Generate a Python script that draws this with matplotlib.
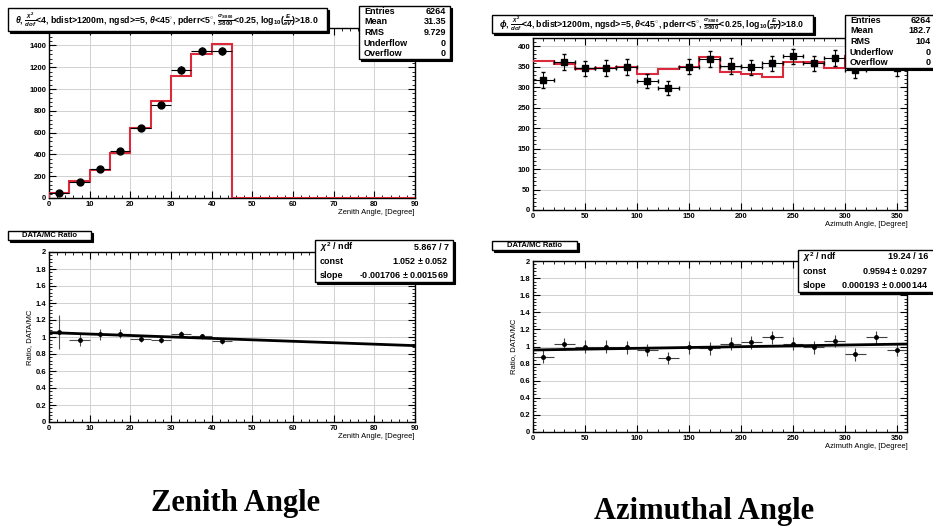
import matplotlib
matplotlib.use("Agg")
import matplotlib.pyplot as plt
import numpy as np
from matplotlib.patches import Rectangle
from matplotlib.ticker import MultipleLocator, AutoMinorLocator

plt.rcParams["font.family"] = ["Liberation Sans", "DejaVu Sans"]
plt.rcParams["font.weight"] = "bold"
plt.rcParams["mathtext.fontset"] = "custom"
plt.rcParams["mathtext.rm"] = "Liberation Sans:bold"
plt.rcParams["mathtext.it"] = "Liberation Sans:italic:bold"

# ---- data ----
zen_edges = np.arange(0, 95, 5)
zen_mc = [42, 155, 257, 416, 646, 891, 1124, 1323, 1415, 0, 0, 0, 0, 0, 0, 0, 0, 0]
zen_x = [2.5, 7.5, 12.5, 17.5, 22.5, 27.5, 32.5, 37.5, 42.5]
zen_data = [45, 150, 266, 435, 640, 852, 1176, 1345, 1345]
zen_err = [7, 12, 16, 21, 25, 29, 34, 37, 37]

azi_edges = np.arange(0, 380, 20)
azi_mc = [364, 356, 345, 346, 350, 332, 345, 350, 373,
          338, 332, 324, 362, 362, 347, 375, 349, 361]
azi_x = np.arange(10, 360, 20)
azi_data = [318, 362, 346, 347, 349, 315, 297, 350, 369,
            352, 348, 358, 375, 358, 371, 341, 387, 346]
azi_err = [19, 19, 19, 19, 19, 18, 17, 19, 19,
           19, 19, 19, 19, 19, 19, 18, 20, 19]

zen_ratio = [1.06, 0.97, 1.03, 1.04, 0.975, 0.96, 1.04, 1.01, 0.95]
zen_ratio_err = [0.2, 0.07, 0.07, 0.05, 0.035, 0.03, 0.03, 0.03, 0.03]
zen_fit = (1.052, -0.001706)

azi_ratio = [0.88, 1.03, 1.0, 1.0, 0.99, 0.96, 0.866, 0.99, 0.98,
             1.035, 1.05, 1.11, 1.035, 0.99, 1.065, 0.91, 1.11, 0.96]
azi_ratio_err = [0.075] * 18
azi_fit = (0.9594, 0.000193)

zen_stats = [("Entries", "6264"), ("Mean", "31.35"), ("RMS", "9.729"),
             ("Underflow", "0"), ("Overflow", "0")]
azi_stats = [("Entries", "6264"), ("Mean", "182.7"), ("RMS", "104"),
             ("Underflow", "0"), ("Overflow", "0")]
zen_fit_stats = [(r"$\chi^2$ / ndf", "5.867 / 7"), ("const", "1.052 $\\pm$ 0.052"),
                 ("slope", "-0.001706 $\\pm$ 0.001569")]
azi_fit_stats = [(r"$\chi^2$ / ndf", "19.24 / 16"), ("const", "0.9594 $\\pm$ 0.0297"),
                 ("slope", "0.000193 $\\pm$ 0.000144")]

cuts = (r", $\frac{\chi^2}{dof}$<4, bdist>1200m, ngsd>=5, $\theta$<45$^{\circ}$, pderr<5$^{\circ}$, "
        r"$\frac{\sigma_{S800}}{S800}$<0.25, log$_{10}$($\frac{E}{eV}$)>18.0")

W, H = 933, 532
RED = "#dc2a3c"

fig = plt.figure(figsize=(W / 100, H / 100), dpi=100)


def fx(x):
    return x / W


def fy(y):
    return 1 - y / H


def add_ax(x0, y0, x1, y1):
    return fig.add_axes([fx(x0), fy(y1), (x1 - x0) / W, (y1 - y0) / H])


def root_box(x0, y0, x1, y1, shadow=2):
    fig.patches.append(Rectangle((fx(x0 + shadow), fy(y1 + shadow)), (x1 - x0) / W, (y1 - y0) / H,
                                 transform=fig.transFigure, fc="black", ec="black", lw=0.8, zorder=10))
    fig.patches.append(Rectangle((fx(x0), fy(y1)), (x1 - x0) / W, (y1 - y0) / H,
                                 transform=fig.transFigure, fc="white", ec="black", lw=1, zorder=11))


def stats_box(x0, y0, x1, y1, rows, xval, size=6.5):
    root_box(x0, y0, x1, y1)
    step = (y1 - y0) / len(rows)
    for i, (k, v) in enumerate(rows):
        yy = y0 + step * (i + 0.5)
        fig.text(fx(x0 + 5), fy(yy), k, fontsize=size, va="center", ha="left", zorder=12)
        fig.text(fx(xval), fy(yy), v, fontsize=size, va="center", ha="right", zorder=12)


def style(ax, xmaj, ymaj, xlabel):
    ax.xaxis.set_major_locator(MultipleLocator(xmaj))
    ax.yaxis.set_major_locator(MultipleLocator(ymaj))
    ax.xaxis.set_minor_locator(AutoMinorLocator(5))
    ax.yaxis.set_minor_locator(AutoMinorLocator(5))
    ax.tick_params(which="both", direction="in", top=True, right=True, labelsize=5.5, pad=2)
    ax.tick_params(which="major", length=5, width=0.8)
    ax.tick_params(which="minor", length=2.5, width=0.6)
    ax.grid(True, which="major", color="0.82", lw=0.7)
    ax.set_axisbelow(True)
    for s in ax.spines.values():
        s.set_linewidth(1.0)
    ax.set_xlabel(xlabel, fontsize=5.5, loc="right", labelpad=1)


# ---- top left: zenith ----
ax1 = add_ax(49, 28, 415, 198)
ax1.stairs(zen_mc, zen_edges, color=RED, lw=1.5, baseline=0, zorder=3)
ax1.errorbar(zen_x, zen_data, yerr=zen_err, xerr=2.5, fmt="o", color="black",
             ms=5, elinewidth=0.8, capsize=0, zorder=4)
ax1.set_xlim(0, 90)
ax1.set_ylim(0, 1560)
style(ax1, 10, 200, "Zenith Angle, [Degree]")

# ---- top right: azimuth ----
ax2 = add_ax(533, 38, 907.4, 210)
ax2.stairs(azi_mc, azi_edges, color=RED, lw=1.5, baseline=None, zorder=3)
ax2.errorbar(azi_x, azi_data, yerr=azi_err, xerr=10, fmt="s", color="black",
             ms=4.5, elinewidth=0.8, capsize=1.2, zorder=4)
ax2.set_xlim(0, 360)
ax2.set_ylim(0, 420)
style(ax2, 50, 50, "Azimuth Angle, [Degree]")

# ---- bottom left: zenith ratio ----
ax3 = add_ax(49, 252, 415, 422)
ax3.errorbar(zen_x, zen_ratio, yerr=zen_ratio_err, xerr=2.5, fmt="o", color="black",
             ecolor="0.3", ms=2.5, elinewidth=0.8, capsize=0, zorder=4)
xf = np.array([0, 90])
ax3.plot(xf, zen_fit[0] + zen_fit[1] * xf, color="black", lw=2, zorder=5)
ax3.set_xlim(0, 90)
ax3.set_ylim(0, 2)
style(ax3, 10, 0.2, "Zenith Angle, [Degree]")
ax3.set_ylabel("Ratio, DATA/MC", fontsize=5.5, labelpad=2)
ax3.yaxis.set_major_formatter(plt.FuncFormatter(lambda v, p: f"{v:g}"))

# ---- bottom right: azimuth ratio ----
ax4 = add_ax(533, 261, 907.4, 432)
ax4.errorbar(azi_x, azi_ratio, yerr=azi_ratio_err, xerr=10, fmt="o", color="black",
             ecolor="0.25", ms=2.5, elinewidth=0.8, capsize=0, zorder=4)
xf = np.array([0, 360])
ax4.plot(xf, azi_fit[0] + azi_fit[1] * xf, color="black", lw=2, zorder=5)
ax4.set_xlim(0, 360)
ax4.set_ylim(0, 2)
style(ax4, 50, 0.2, "Azimuth Angle, [Degree]")
ax4.set_ylabel("Ratio, DATA/MC", fontsize=5.5, labelpad=2)
ax4.yaxis.set_major_formatter(plt.FuncFormatter(lambda v, p: f"{v:g}"))

# ---- title and stat boxes ----
root_box(8, 8, 327, 31)
fig.text(fx(167), fy(19.5), r"$\theta$" + cuts, fontsize=6.3, ha="center", va="center", zorder=12)
root_box(492, 15, 813, 33)
fig.text(fx(652), fy(24), r"$\phi$" + cuts, fontsize=6.3, ha="center", va="center", zorder=12)

stats_box(359, 6, 450, 59, zen_stats, 446)
stats_box(845, 15, 945, 68, azi_stats, 931)

root_box(8, 231, 91, 240, shadow=1.5)
fig.text(fx(49.5), fy(235.5), "DATA/MC Ratio", fontsize=5.5, ha="center", va="center", zorder=12)
root_box(492, 241, 577, 250, shadow=1.5)
fig.text(fx(534.5), fy(245.5), "DATA/MC Ratio", fontsize=5.5, ha="center", va="center", zorder=12)

stats_box(315, 240, 453, 282, zen_fit_stats, 449)
stats_box(798, 250, 945, 292, azi_fit_stats, 928)

# ---- captions ----
fig.text(fx(236), fy(503), "Zenith Angle", fontsize=22, family="Liberation Serif",
         weight="bold", ha="center", va="center")
fig.text(fx(704), fy(511), "Azimuthal Angle", fontsize=22, family="Liberation Serif",
         weight="bold", ha="center", va="center")

fig.savefig("out.png", dpi=100)
